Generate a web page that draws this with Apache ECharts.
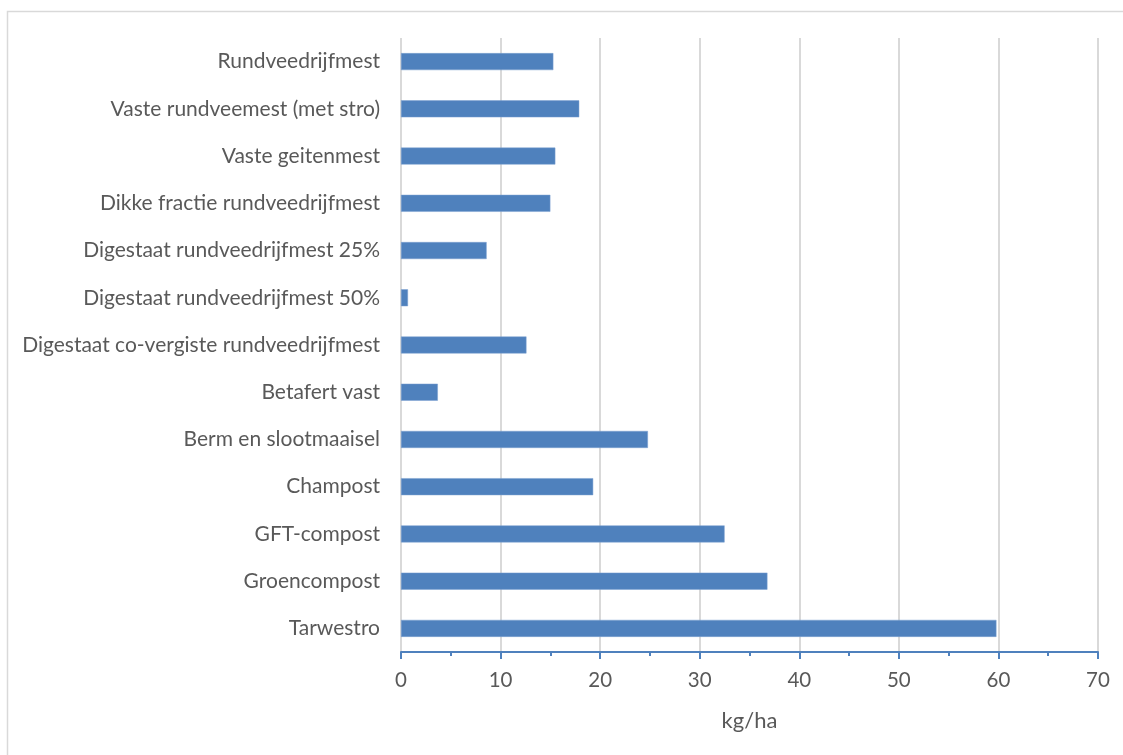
<!DOCTYPE html>
<html>
<head>
<meta charset="utf-8">
<script src="https://cdn.jsdelivr.net/npm/echarts@6/dist/echarts.min.js"></script>
<style>
html,body{margin:0;padding:0;background:#fff;}
#chart{width:1123px;height:755px;}
</style>
</head>
<body>
<div id="chart"></div>
<script>
const categories = [
  "Rundveedrijfmest",
  "Vaste rundveemest (met stro)",
  "Vaste geitenmest",
  "Dikke fractie rundveedrijfmest",
  "Digestaat rundveedrijfmest 25%",
  "Digestaat rundveedrijfmest 50%",
  "Digestaat co-vergiste rundveedrijfmest",
  "Betafert vast",
  "Berm en slootmaaisel",
  "Champost",
  "GFT-compost",
  "Groencompost",
  "Tarwestro"
];
const values = [15.3, 17.9, 15.5, 15.0, 8.6, 0.7, 12.6, 3.7, 24.8, 19.3, 32.5, 36.8, 59.8];
const xTicks = [0, 10, 20, 30, 40, 50, 60, 70];
const axisName = "kg/ha";

const chart = echarts.init(document.getElementById('chart'));
const font = 'Lato, "Open Sans", sans-serif';
chart.setOption({
  animation: false,
  graphic: [{
    type: 'rect',
    shape: {x: 7.5, y: 11.5, width: 1200, height: 800},
    style: {fill: 'none', stroke: '#d9d9d9', lineWidth: 1.5},
    silent: true
  }],
  grid: {left: 401, right: 25, top: 38, bottom: 103, containLabel: false},
  xAxis: {
    type: 'value',
    min: xTicks[0],
    max: xTicks[xTicks.length - 1],
    interval: 10,
    name: axisName,
    nameLocation: 'middle',
    nameGap: 58,
    nameTextStyle: {fontFamily: font, fontSize: 22, color: '#595959'},
    axisLine: {show: true, lineStyle: {color: '#4f81bd', width: 2}},
    axisTick: {show: true, length: 7, lineStyle: {color: '#4f81bd', width: 2}},
    minorTick: {show: true, splitNumber: 2, length: 4, lineStyle: {color: '#4f81bd', width: 2}},
    axisLabel: {fontFamily: font, fontSize: 20.5, color: '#595959', margin: 18},
    splitLine: {show: true, lineStyle: {color: '#d9d9d9', width: 2}}
  },
  yAxis: {
    type: 'category',
    data: categories,
    inverse: true,
    axisLine: {show: false},
    axisTick: {show: false},
    axisLabel: {fontFamily: font, fontSize: 21, color: '#595959', margin: 21},
    splitLine: {show: false}
  },
  series: [{
    type: 'bar',
    data: values,
    barWidth: 17,
    itemStyle: {color: '#4f81bd', borderColor: '#7da0d0', borderWidth: 0.5}
  }]
});
</script>
</body>
</html>
